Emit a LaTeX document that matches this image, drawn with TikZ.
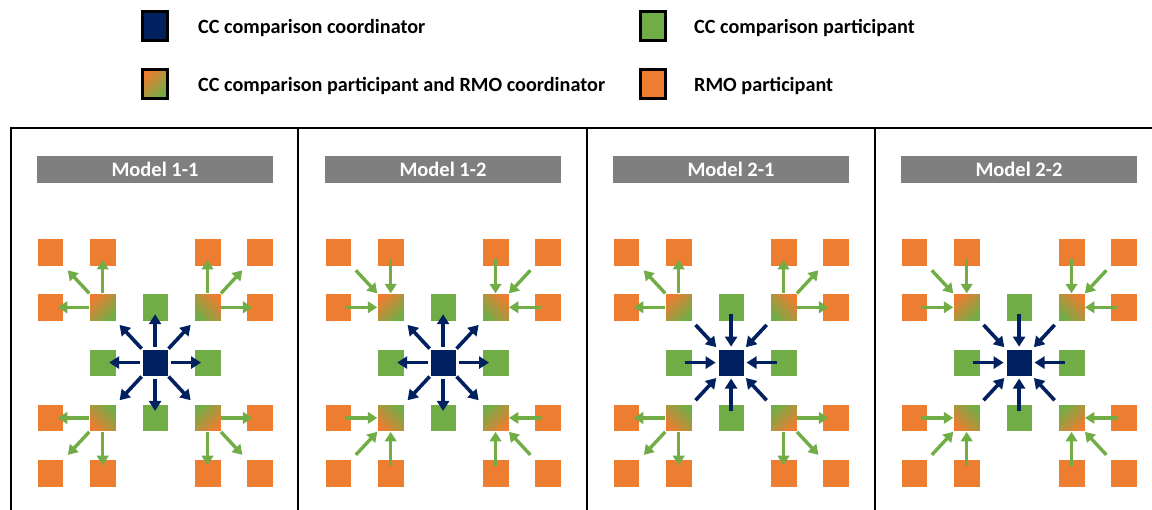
\documentclass[tikz,border=0pt]{standalone}
\usepackage{fontspec}
\setmainfont{Carlito}
\usepackage{tikz}
\usetikzlibrary{arrows.meta,  % pointes de fleches
           calc,
           positioning}
\definecolor{bm}{RGB}{0,32,96}
\definecolor{vt}{RGB}{112,173,71}
\definecolor{og}{RGB}{237,125,49}
\definecolor{gr}{RGB}{127,127,127}
\tikzset{
  sq/.style={minimum width=26.5pt,minimum height=27.5pt,inner sep=0,draw=white,line width=0.4pt},
  rmo/.style={sq,fill=og},
  part/.style={sq,fill=vt},
  pil/.style={sq,fill=bm},
  mix/.style={sq,top color=og,bottom color=vt,shading angle=#1},
  fb/.style={line width=3.6pt,bm,-{Triangle[width=12pt,length=10pt]}},
  fv/.style={line width=3.4pt,vt,-{Triangle[width=11.5pt,length=9.5pt]}},
  leg/.style={minimum width=25pt,minimum height=29pt,inner sep=0,draw=black,line width=3pt},
  txt/.style={anchor=base west,inner sep=0,font=\bfseries\fontsize{20.2}{20.2}\selectfont},
  bar/.style={fill=gr,minimum width=236pt,minimum height=27.5pt,inner sep=0,text=white,
              font=\bfseries\fontsize{20.5}{20.5}\selectfont}
}

\begin{document}
\begin{tikzpicture}[x=1pt,y=-1pt]
\useasboundingbox (0,0) rectangle (1152,510);
% legende
\node[leg,fill=bm] (l1) at (155,26) {};
\node[leg,top color=og,bottom color=vt,shading angle=45] (l2) at (155,84) {};
\node[leg,fill=vt] (l3) at (652.5,26) {};
\node[leg,fill=og] (l4) at (652.5,84) {};
\node[txt] (t1) at (198,33.3) {CC comparison coordinator};
\node[txt] (t2) at (198,91.7) {CC comparison participant and RMO coordinator};
\node[txt] (t3) at (694,33.3) {CC comparison participant};
\node[txt] (t4) at (694,91.7) {RMO participant};
% cadres
\draw[line width=2pt] (10.7,530) -- (10.7,127.7) -- (1170,127.7);
\foreach \x in {298,587.3,875.3}
  \draw[line width=2pt] (\x,127.7) -- (\x,530);
% modeles
\foreach \p/\mod/\bin/\vin in {0/1-1/0/0,1/1-2/0/1,2/2-1/1/0,3/2-2/1/1}{
\begin{scope}[xshift=288*\p]
  \node[bar] (m\p) at (155,169.5) {Model \mod};
  \foreach \r/\c in {0/0,0/1,0/3,0/4,1/0,1/4,3/0,3/4,4/0,4/1,4/3,4/4}
    \node[rmo] (o\p-\r\c) at ({50.3+52.4*\c},{252+55.3*\r}) {};
  \foreach \r/\c in {1/2,2/1,2/3,3/2}
    \node[part] (v\p-\r\c) at ({50.3+52.4*\c},{252+55.3*\r}) {};
  \foreach \r/\c/\ang in {1/1/45,1/3/-45,3/1/135,3/3/-135}
    \node[mix=\ang] (q\p-\r\c) at ({50.3+52.4*\c},{252+55.3*\r}) {};
  \node[pil] (n\p) at ({50.3+52.4*2},{252+55.3*2}) {};
  % fleches du coordinateur
  \foreach \vv in {12,21,23,32}{
    \ifnum\bin=0
      \draw[fb,shorten <=2pt,shorten >=-7pt] (n\p) -- (v\p-\vv);
    \else
      \draw[fb,shorten <=-7pt,shorten >=2pt] (v\p-\vv) -- (n\p);
    \fi}
  \foreach \qq/\ca/\cb in {11/north west/south east,13/north east/south west,
                           31/south west/north east,33/south east/north west}{
    \ifnum\bin=0
      \draw[fb,shorten >=5pt] (n\p.\ca) -- (q\p-\qq.\cb);
    \else
      \draw[fb,shorten <=5pt,shorten >=2pt] (q\p-\qq.\cb) -- (n\p.\ca);
    \fi}
  % fleches RMO
  \foreach \qq/\hh/\ww/\dd/\ca/\cb in {11/10/01/00/north west/south east,
                                      13/14/03/04/north east/south west,
                                      31/30/41/40/south west/north east,
                                      33/34/43/44/south east/north west}{
    \ifnum\vin=0
      \draw[fv,shorten >=-6pt] (q\p-\qq) -- (o\p-\hh);
      \draw[fv,shorten >=-6pt] (q\p-\qq) -- (o\p-\ww);
      \draw[fv,shorten >=6pt] (q\p-\qq.\ca) -- (o\p-\dd.\cb);
    \else
      \draw[fv,shorten <=-7pt] (o\p-\hh) -- (q\p-\qq);
      \draw[fv,shorten <=-7pt] (o\p-\ww) -- (q\p-\qq);
      \draw[fv,shorten <=6pt] (o\p-\dd.\cb) -- (q\p-\qq.\ca);
    \fi}
\end{scope}}
\end{tikzpicture}
\end{document}
